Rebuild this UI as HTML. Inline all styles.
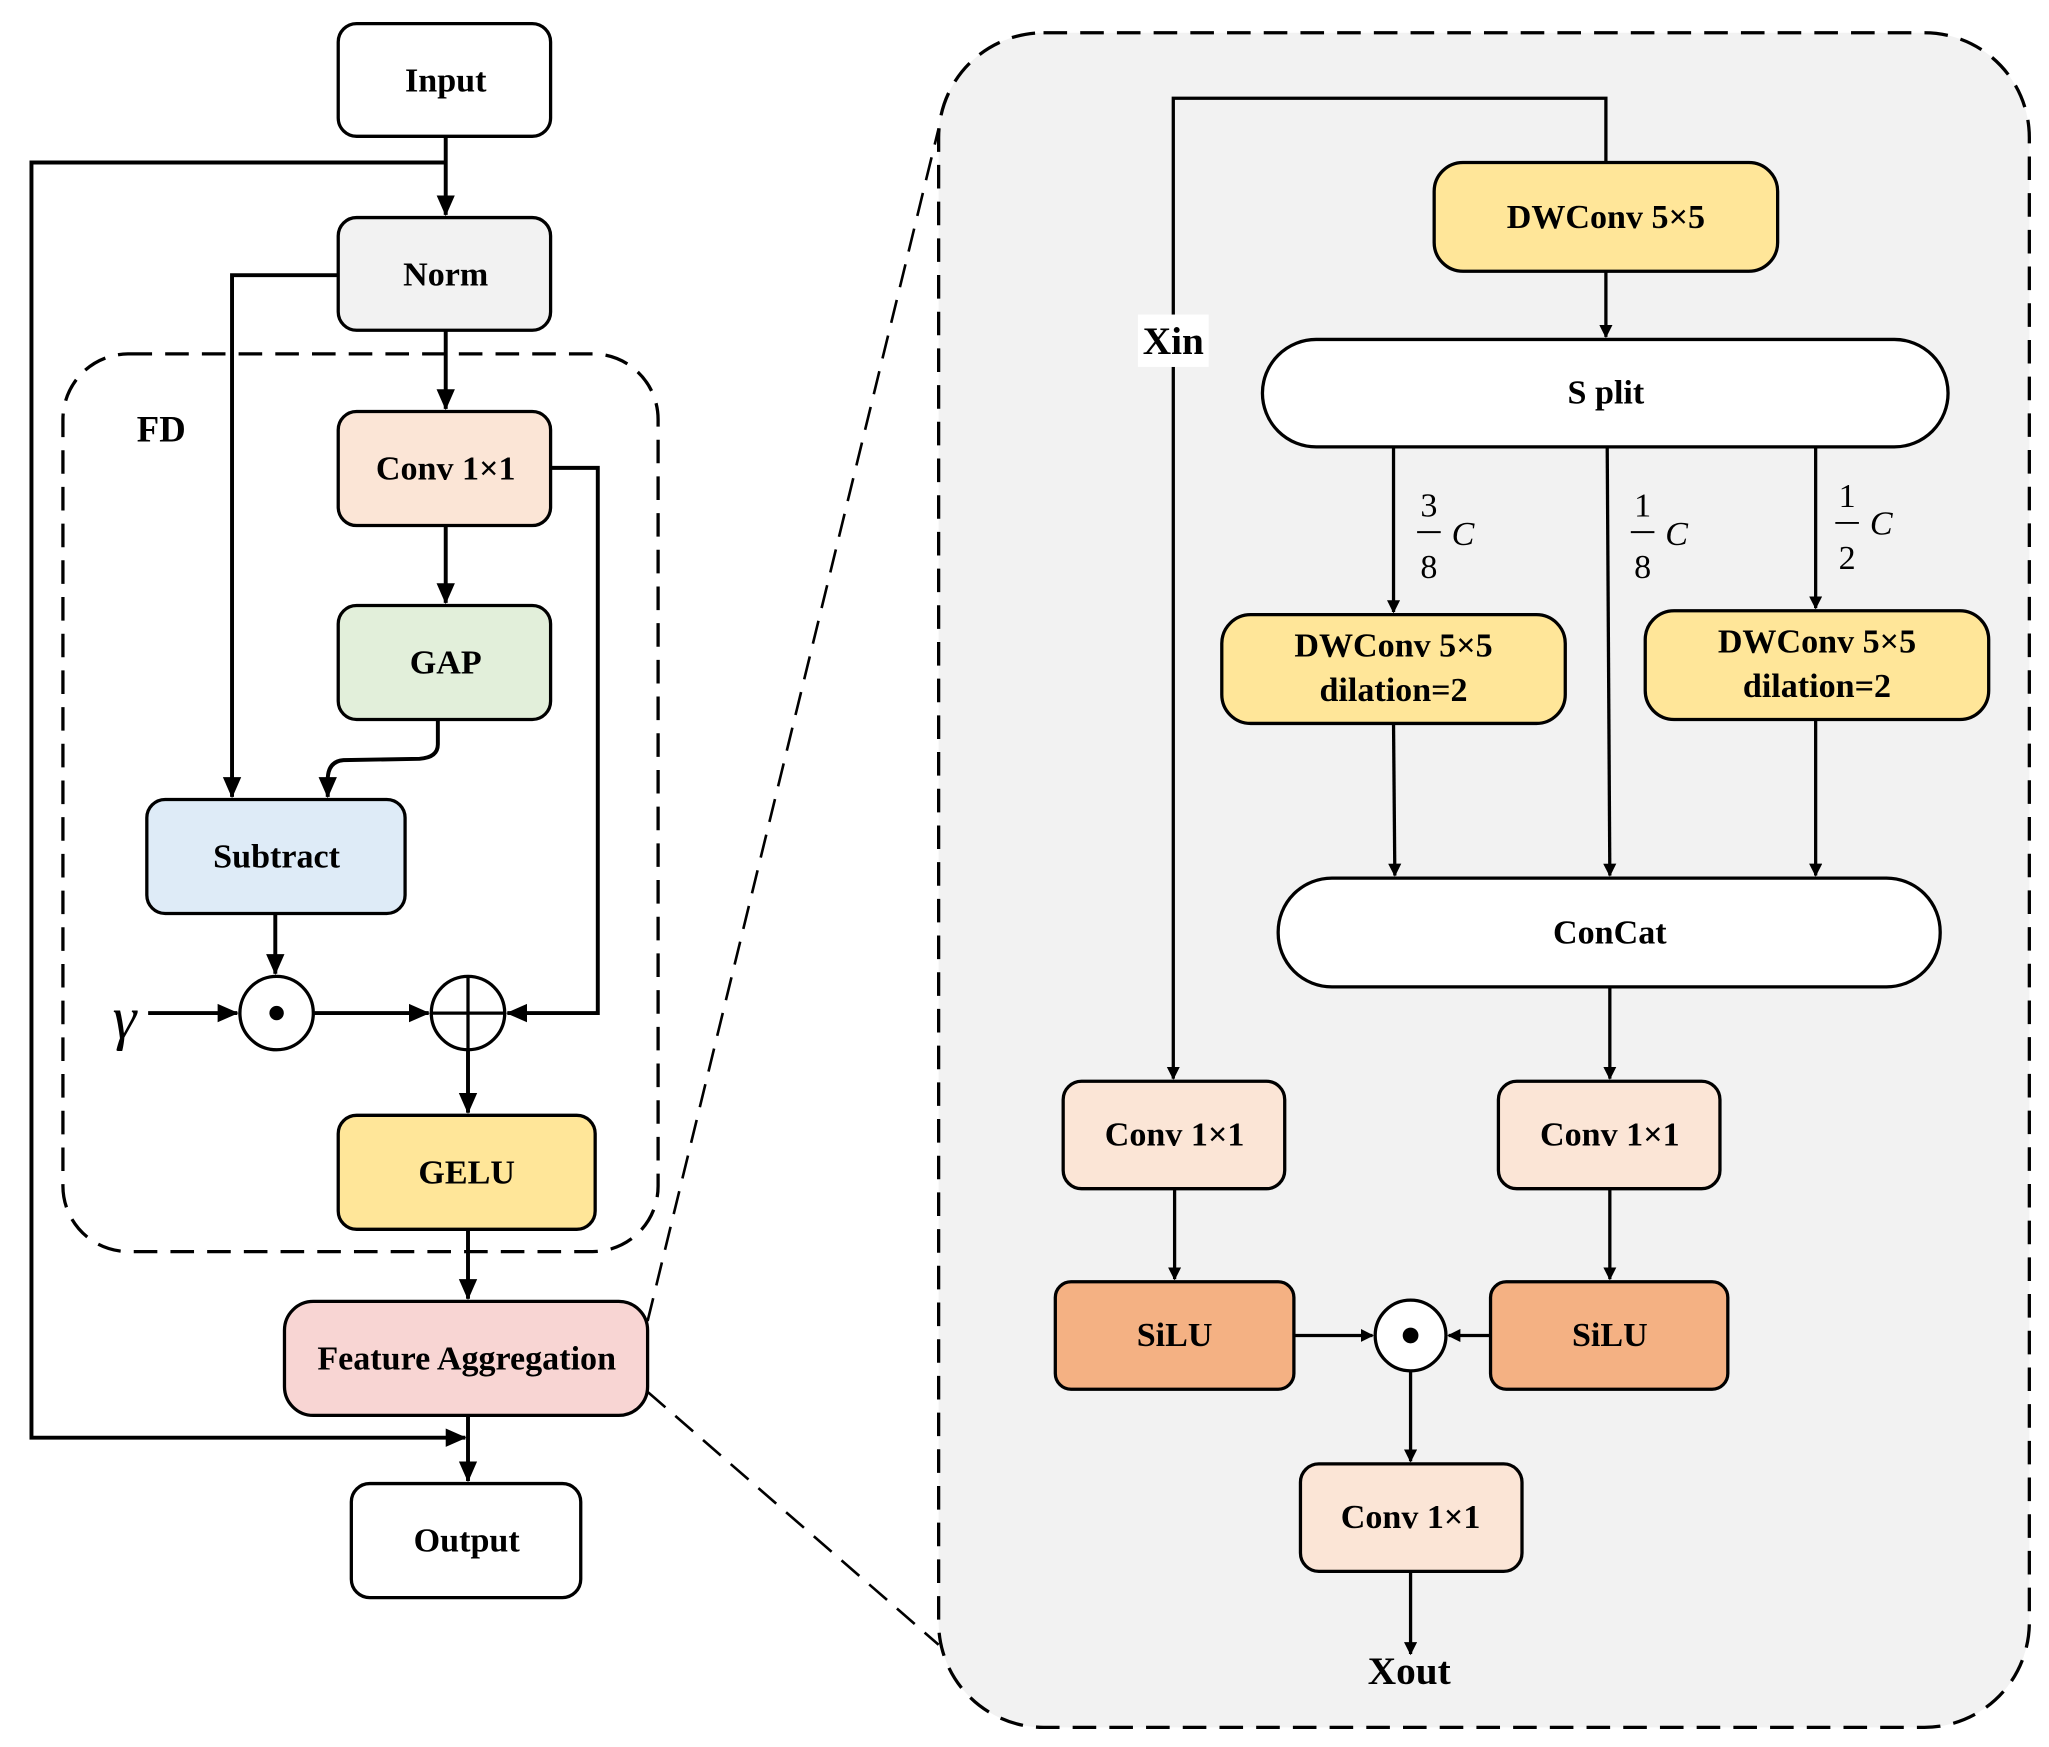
<!DOCTYPE html>
<html><head><meta charset="utf-8"><style>
html,body{margin:0;padding:0;background:#fff;}
svg{display:block;}
text{font-family:"Liberation Serif",serif;font-weight:bold;}
</style></head><body>
<svg width="2049" height="1747" viewBox="0 0 1563 1333" preserveAspectRatio="none" xmlns="http://www.w3.org/2000/svg">
<defs>
<marker id="a" markerWidth="10" markerHeight="10" refX="9" refY="5" orient="auto" markerUnits="userSpaceOnUse" viewBox="0 0 10 10">
<path d="M0,0 L10,5 L0,10 z" fill="#000"/></marker>
<marker id="b" markerWidth="16" markerHeight="16" refX="15" refY="8" orient="auto" markerUnits="userSpaceOnUse" viewBox="0 0 16 16">
<path d="M0,1 L16,8 L0,15 z" fill="#000"/></marker>
</defs>
<rect width="1563" height="1333" fill="#fff"/>
<rect x="716" y="25" width="832" height="1293" rx="80" fill="#f2f2f2" stroke="#000" stroke-width="2.5" stroke-dasharray="18,10"/>
<line x1="494" y1="1008" x2="716" y2="98" stroke="#000" stroke-width="2" stroke-dasharray="18,10"/>
<line x1="494" y1="1062" x2="716" y2="1255" stroke="#000" stroke-width="2" stroke-dasharray="18,10"/>
<rect x="48" y="270" width="454" height="685" rx="50" fill="none" stroke="#000" stroke-width="2.5" stroke-dasharray="18,10"/>
<g stroke="#000" stroke-width="3" fill="none">
<polyline points="340,124 24,124 24,1097 355,1097" marker-end="url(#b)"/>
<line x1="340" y1="104" x2="340" y2="164" marker-end="url(#b)"/>
<polyline points="258,210 177,210 177,608" marker-end="url(#b)"/>
<line x1="340" y1="252" x2="340" y2="312" marker-end="url(#b)"/>
<line x1="340" y1="401" x2="340" y2="460" marker-end="url(#b)"/>
<path d="M334,549 L334,568 Q334,578 320,579 L262,580 Q250,581 250,595 L250,608" marker-end="url(#b)"/>
<polyline points="420,357 456,357 456,773 387,773" marker-end="url(#b)"/>
<line x1="210" y1="697" x2="210" y2="743" marker-end="url(#b)"/>
<line x1="113" y1="773" x2="181" y2="773" marker-end="url(#b)"/>
<line x1="240" y1="773" x2="327" y2="773" marker-end="url(#b)"/>
<line x1="357" y1="801" x2="357" y2="849" marker-end="url(#b)"/>
<line x1="357" y1="938" x2="357" y2="991" marker-end="url(#b)"/>
<line x1="357" y1="1080" x2="357" y2="1130" marker-end="url(#b)"/>
</g>
<g stroke="#000" stroke-width="2.5">
<rect x="258" y="18" width="162" height="86" rx="14" fill="#fff"/>
<rect x="258" y="166" width="162" height="86" rx="14" fill="#f2f2f2"/>
<rect x="258" y="314" width="162" height="87" rx="14" fill="#fbe5d6"/>
<rect x="258" y="462" width="162" height="87" rx="14" fill="#e2efda"/>
<rect x="112" y="610" width="197" height="87" rx="14" fill="#deebf7"/>
<rect x="258" y="851" width="196" height="87" rx="14" fill="#ffe699"/>
<rect x="217" y="993" width="277" height="87" rx="22" fill="#f8d5d3"/>
<rect x="268" y="1132" width="175" height="87" rx="14" fill="#fff"/>
<circle cx="211" cy="773" r="28" fill="#fff"/>
<circle cx="357" cy="773" r="28" fill="#fff"/>
<line x1="329" y1="773" x2="385" y2="773"/>
<line x1="357" y1="745" x2="357" y2="801"/>
</g>
<circle cx="211" cy="773" r="5.5" fill="#000"/>
<g font-size="26" text-anchor="middle">
<text x="340" y="70">Input</text>
<text x="340" y="218">Norm</text>
<text x="340" y="366">Conv 1×1</text>
<text x="340" y="514">GAP</text>
<text x="211" y="662">Subtract</text>
<text x="356" y="903">GELU</text>
<text x="356" y="1045">Feature Aggregation</text>
<text x="356" y="1184">Output</text>
<text x="123" y="337" font-size="28">FD</text>
</g>
<text x="95" y="792" font-size="46" text-anchor="middle" style="font-style:italic;font-weight:normal">γ</text>
<g stroke="#000" stroke-width="2.5" fill="none">
<polyline points="1225,124 1225,75 895,75 895,823" marker-end="url(#a)"/>
<line x1="1225" y1="207" x2="1225" y2="257" marker-end="url(#a)"/>
<line x1="1063" y1="341" x2="1063" y2="467" marker-end="url(#a)"/>
<line x1="1226" y1="341" x2="1228" y2="668" marker-end="url(#a)"/>
<line x1="1385" y1="341" x2="1385" y2="464" marker-end="url(#a)"/>
<line x1="1063" y1="552" x2="1064" y2="668" marker-end="url(#a)"/>
<line x1="1385" y1="549" x2="1385" y2="668" marker-end="url(#a)"/>
<line x1="1228" y1="753" x2="1228" y2="823" marker-end="url(#a)"/>
<line x1="896" y1="907" x2="896" y2="976" marker-end="url(#a)"/>
<line x1="1228" y1="907" x2="1228" y2="976" marker-end="url(#a)"/>
<line x1="987" y1="1019" x2="1047" y2="1019" marker-end="url(#a)"/>
<line x1="1137" y1="1019" x2="1105" y2="1019" marker-end="url(#a)"/>
<line x1="1076" y1="1046" x2="1076" y2="1115" marker-end="url(#a)"/>
<line x1="1076" y1="1199" x2="1076" y2="1262" marker-end="url(#a)"/>
</g>
<rect x="868" y="240" width="54" height="40" fill="#fff"/>
<g stroke="#000" stroke-width="2.5">
<rect x="1094" y="124" width="262" height="83" rx="22" fill="#ffe699"/>
<rect x="963" y="259" width="523" height="82" rx="41" fill="#fff"/>
<rect x="932" y="469" width="262" height="83" rx="22" fill="#ffe699"/>
<rect x="1255" y="466" width="262" height="83" rx="22" fill="#ffe699"/>
<rect x="975" y="670" width="505" height="83" rx="41" fill="#fff"/>
<rect x="811" y="825" width="169" height="82" rx="14" fill="#fbe5d6"/>
<rect x="1143" y="825" width="169" height="82" rx="14" fill="#fbe5d6"/>
<rect x="805" y="978" width="182" height="82" rx="12" fill="#f4b183"/>
<rect x="1137" y="978" width="181" height="82" rx="12" fill="#f4b183"/>
<rect x="992" y="1117" width="169" height="82" rx="14" fill="#fbe5d6"/>
<circle cx="1076" cy="1019" r="27" fill="#fff"/>
</g>
<circle cx="1076" cy="1019" r="6" fill="#000"/>
<g font-size="26" text-anchor="middle">
<text x="895" y="270" font-size="30">Xin</text>
<text x="1225" y="174">DWConv 5×5</text>
<text x="1225" y="308">S plit</text>
<text x="1063" y="501">DWConv 5×5</text>
<text x="1063" y="535">dilation=2</text>
<text x="1386" y="498">DWConv 5×5</text>
<text x="1386" y="532">dilation=2</text>
<text x="1228" y="720">ConCat</text>
<text x="896" y="874">Conv 1×1</text>
<text x="1228" y="874">Conv 1×1</text>
<text x="896" y="1027">SiLU</text>
<text x="1228" y="1027">SiLU</text>
<text x="1076" y="1166">Conv 1×1</text>
<text x="1075" y="1285" font-size="30">Xout</text>
</g>
<g font-size="26" text-anchor="middle">
<text x="1090" y="394" style="font-weight:normal">3</text>
<text x="1090" y="441" style="font-weight:normal">8</text>
<text x="1116" y="416" style="font-weight:normal;font-style:italic">C</text>
<text x="1253" y="394" style="font-weight:normal">1</text>
<text x="1253" y="441" style="font-weight:normal">8</text>
<text x="1279" y="416" style="font-weight:normal;font-style:italic">C</text>
<text x="1409" y="387" style="font-weight:normal">1</text>
<text x="1409" y="434" style="font-weight:normal">2</text>
<text x="1435" y="408" style="font-weight:normal;font-style:italic">C</text>
</g>
<g stroke="#000" stroke-width="1.5">
<line x1="1081" y1="406" x2="1099" y2="406"/>
<line x1="1244" y1="406" x2="1262" y2="406"/>
<line x1="1400" y1="399" x2="1418" y2="399"/>
</g>
</svg>
</body></html>
